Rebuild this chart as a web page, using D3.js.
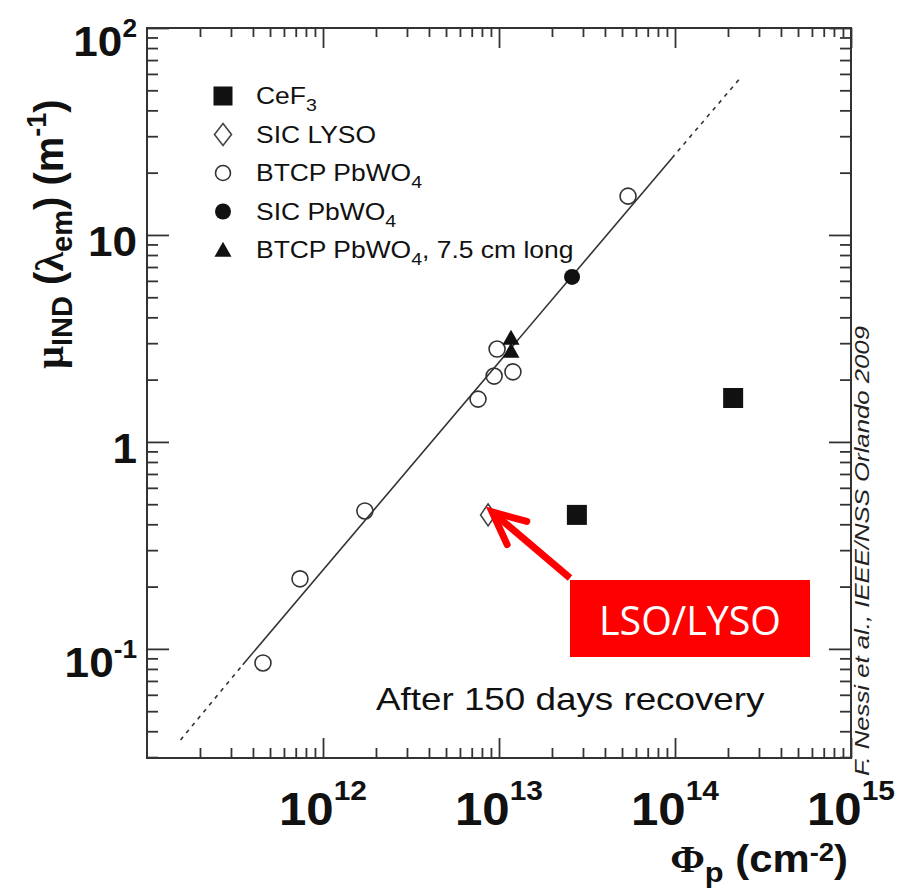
<!DOCTYPE html>
<html>
<head>
<meta charset="utf-8">
<script src="https://cdn.jsdelivr.net/npm/d3@7"></script>
<style>
  body { margin: 0; background: #fff; }
  svg { display: block; }
  text { white-space: pre; }
</style>
</head>
<body>
<svg id="chart" width="898" height="891"></svg>
<script>
// Radiation-induced absorption coefficient vs. proton fluence

// CeF3
const cef3Phi = [2.77e13, 2.14e14];
const cef3Mu = [0.444, 1.63];
// SIC LYSO
const sicLysoPhi = [8.67e12];
const sicLysoMu = [0.444];
// BTCP PbWO4
const btcpPhi = [4.56e11, 7.40e11, 1.73e12, 7.60e12, 9.38e12, 9.75e12, 1.20e13, 5.41e13];
const btcpMu = [0.0855, 0.218, 0.464, 1.61, 2.08, 2.81, 2.18, 15.4];
// SIC PbWO4
const sicPbwoPhi = [2.60e13];
const sicPbwoMu = [6.27];
// BTCP PbWO4, 7.5 cm long
const btcpLongPhi = [1.17e13, 1.17e13];
const btcpLongMu = [3.18, 2.75];
// Linear fit: dashed extrapolation, solid fitted range, dashed extrapolation
const fitPhi = [1.55e11, 3.5e11, 9.6e13, 2.35e14];
const fitMu = [0.0363, 0.0838, 23.5, 57.3];

// Axis tick labels
const xTickExps = ["12", "13", "14", "15"];
const yTickValues = [100, 10, 1, 0.1];
const yTickBase = ["10", "10", "1", "10"];
const yTickSup = ["2", "", "", "-1"];

// Legend entries ("_x" marks a subscript character)
const legendLabels = ["CeF_3", "SIC LYSO", "BTCP PbWO_4", "SIC PbWO_4", "BTCP PbWO_4, 7.5 cm long"];
const legendShapes = ["square", "diamond", "circle", "dot", "triangle"];

const noteText = "After 150 days recovery";
const creditText = "F. Nessi et al., IEEE/NSS Orlando 2009";
const calloutText = "LSO/LYSO";

// ---------------------------------------------------------------
const svg = d3.select("#chart");
const SANS = "'Liberation Sans', Arial, Helvetica, sans-serif";
const SERIF = "'Liberation Serif', 'DejaVu Serif', serif";
const INK = "#111";
const AXIS = "#333";

const plot = { left: 147, right: 851, top: 28, bottom: 758 };
const x = d3.scaleLog().domain([1e11, 1e15]).range([plot.left, plot.right]);
const y = d3.scaleLog().domain([0.0297, 100]).range([plot.bottom, plot.top]);

// --- ticks on all four sides, pointing inward
const xMajor = xTickExps.map(e => Math.pow(10, +e));
const xMinor = d3.range(11, 15).flatMap(e => d3.range(2, 10).map(m => m * Math.pow(10, e)));
const yMajor = yTickValues;
const yMinor = d3.range(-2, 2).flatMap(e => d3.range(2, 10).map(m => m * Math.pow(10, e)))
  .filter(v => v > y.domain()[0] && v < y.domain()[1]);

function tickGroup(axis, tx, ty) {
  svg.append("g")
    .attr("transform", `translate(${tx},${ty})`)
    .attr("color", AXIS)
    .call(axis.tickFormat("").tickSizeOuter(0))
    .call(g => g.select(".domain").remove())
    .selectAll("line").attr("stroke-width", 1.8);
}
tickGroup(d3.axisBottom(x).tickValues(xMajor).tickSize(-20), 0, plot.bottom);
tickGroup(d3.axisBottom(x).tickValues(xMinor).tickSize(-10), 0, plot.bottom);
tickGroup(d3.axisTop(x).tickValues(xMajor).tickSize(-20), 0, plot.top);
tickGroup(d3.axisTop(x).tickValues(xMinor).tickSize(-9), 0, plot.top);
tickGroup(d3.axisLeft(y).tickValues(yMajor).tickSize(-22), plot.left, 0);
tickGroup(d3.axisLeft(y).tickValues(yMinor).tickSize(-11), plot.left, 0);
tickGroup(d3.axisRight(y).tickValues(yMajor).tickSize(-22), plot.right, 0);
tickGroup(d3.axisRight(y).tickValues(yMinor).tickSize(-11), plot.right, 0);

svg.append("rect")
  .attr("x", plot.left).attr("y", plot.top)
  .attr("width", plot.right - plot.left).attr("height", plot.bottom - plot.top)
  .attr("fill", "none").attr("stroke", AXIS).attr("stroke-width", 2);

// --- text helper: parts with optional baseline offset / size / family
function richText(parent, parts, opts) {
  const t = parent.append("text")
    .attr("transform", opts.transform)
    .attr("text-anchor", opts.anchor || "start")
    .attr("font-family", SANS)
    .attr("font-size", opts.size)
    .attr("font-weight", opts.weight || "normal")
    .attr("font-style", opts.style || "normal")
    .attr("fill", opts.fill || INK);
  let cur = 0;
  parts.forEach(p => {
    const off = p.off || 0;
    const ts = t.append("tspan").attr("dy", off - cur).text(p.t);
    if (p.size) ts.attr("font-size", p.size);
    if (p.family) ts.attr("font-family", p.family);
    cur = off;
  });
  return t;
}

// --- x tick labels: 10^n
xTickExps.forEach((e, i) => {
  richText(svg, [{ t: "10" }, { t: e, size: 28, off: -25 }], {
    transform: `translate(${x(xMajor[i])},825) scale(1.07,1)`,
    anchor: "middle", size: 46, weight: "bold"
  });
});

// --- y tick labels
yTickValues.forEach((v, i) => {
  const sup = yTickSup[i];
  const parts = [{ t: yTickBase[i] }];
  if (sup) parts.push({ t: sup, size: 25, off: -19 });
  richText(svg, parts, {
    transform: `translate(137,${y(v) + (sup ? 28 : 21)}) scale(1.05,1)`,
    anchor: "end", size: 42, weight: "bold"
  });
});

// --- axis titles
richText(svg, [
  { t: "μ", family: SERIF },
  { t: "IND", size: 29, off: 9 },
  { t: " (" },
  { t: "λ", family: SERIF },
  { t: "em", size: 29, off: 9 },
  { t: ") (m" },
  { t: "-1", size: 27, off: -17 },
  { t: ")" }
], { transform: "translate(63,234) rotate(-90)", anchor: "middle", size: 40, weight: "bold" });

richText(svg, [
  { t: "Φ", family: SERIF },
  { t: "p", size: 28, off: 10 },
  { t: " (cm" },
  { t: "-2", size: 25, off: -11 },
  { t: ")" }
], { transform: "translate(848,872) scale(1.1,1)", anchor: "end", size: 38, weight: "bold" });

// --- fit line
const fitPts = fitPhi.map((p, i) => [x(p), y(fitMu[i])]);
const lineGen = d3.line();
[[0, 1, true], [1, 2, false], [2, 3, true]].forEach(([a, b, dashed]) => {
  svg.append("path")
    .attr("d", lineGen([fitPts[a], fitPts[b]]))
    .attr("fill", "none").attr("stroke", "#333").attr("stroke-width", 1.6)
    .attr("stroke-dasharray", dashed ? "4,5" : null);
});

// --- marker drawing
function drawMarker(g, shape, cx, cy, legend) {
  if (shape === "square") {
    const s = legend ? 19 : 20;
    g.append("rect").attr("x", cx - s / 2).attr("y", cy - s / 2).attr("width", s).attr("height", s).attr("fill", INK);
  } else if (shape === "diamond") {
    const w = legend ? 8.5 : 7.5, h = 11;
    g.append("path").attr("d", `M${cx},${cy - h}L${cx + w},${cy}L${cx},${cy + h}L${cx - w},${cy}Z`)
      .attr("fill", "#fff").attr("stroke", "#444").attr("stroke-width", 1.6);
  } else if (shape === "circle") {
    g.append("circle").attr("cx", cx).attr("cy", cy).attr("r", legend ? 7.5 : 8)
      .attr("fill", "none").attr("stroke", "#333").attr("stroke-width", 1.6);
  } else if (shape === "dot") {
    g.append("circle").attr("cx", cx).attr("cy", cy).attr("r", 8).attr("fill", INK);
  } else if (shape === "triangle") {
    const w = 8.5, h = 15;
    g.append("path").attr("d", `M${cx},${cy - h * 0.55}L${cx + w},${cy + h * 0.45}L${cx - w},${cy + h * 0.45}Z`).attr("fill", INK);
  }
}

const series = [
  { shape: "square", phi: cef3Phi, mu: cef3Mu },
  { shape: "diamond", phi: sicLysoPhi, mu: sicLysoMu },
  { shape: "circle", phi: btcpPhi, mu: btcpMu },
  { shape: "dot", phi: sicPbwoPhi, mu: sicPbwoMu },
  { shape: "triangle", phi: btcpLongPhi, mu: btcpLongMu }
];
const pts = svg.append("g");
series.forEach(s => s.phi.forEach((p, i) => drawMarker(pts, s.shape, x(p), y(s.mu[i]), false)));

// --- legend
const leg = svg.append("g");
legendLabels.forEach((lab, i) => {
  const cy = 96 + i * 38.5;
  drawMarker(leg, legendShapes[i], 223, cy, true);
  const parts = lab.split(/_(\w)/).map((t, k) => k % 2 ? { t, size: 17, off: 7 } : { t });
  richText(leg, parts.filter(p => p.t.length), {
    transform: `translate(256,${cy + 8}) scale(1.15,1)`, size: 23
  });
});

// --- annotations
richText(svg, [{ t: noteText }], { transform: "translate(376,710) scale(1.15,1)", size: 32 });

svg.append("text")
  .attr("transform", "translate(869,776) rotate(-90)")
  .attr("font-family", SANS).attr("font-style", "italic").attr("font-size", 20)
  .attr("fill", "#222")
  .attr("textLength", 450).attr("lengthAdjust", "spacingAndGlyphs")
  .text(creditText);

// --- callout box and arrow pointing at the LYSO point
const box = { x: 570, y: 580, w: 240, h: 77 };
svg.append("rect").attr("x", box.x).attr("y", box.y).attr("width", box.w).attr("height", box.h).attr("fill", "#ff0000");
svg.append("text")
  .attr("x", box.x + box.w / 2).attr("y", box.y + 55)
  .attr("text-anchor", "middle")
  .attr("font-family", "'Open Sans', Lato, sans-serif").attr("font-size", 40)
  .attr("fill", "#fff")
  .attr("textLength", 182).attr("lengthAdjust", "spacingAndGlyphs")
  .text(calloutText);

const tip = [x(sicLysoPhi[0]) + 4, y(sicLysoMu[0]) - 3];
const tail = [box.x, box.y - 2];
const ang = Math.atan2(tail[1] - tip[1], tail[0] - tip[0]);
const headLen = 36, spread = 25 * Math.PI / 180;
const barb = a => [tip[0] + headLen * Math.cos(a), tip[1] + headLen * Math.sin(a)];
svg.append("path")
  .attr("d", lineGen([tail, [tip[0] + 3 * Math.cos(ang), tip[1] + 3 * Math.sin(ang)]]))
  .attr("stroke", "#ff0000").attr("stroke-width", 7).attr("fill", "none");
svg.append("path")
  .attr("d", lineGen([barb(ang - spread), tip, barb(ang + spread)]))
  .attr("stroke", "#ff0000").attr("stroke-width", 7).attr("fill", "none")
  .attr("stroke-linejoin", "miter").attr("stroke-linecap", "round");
</script>
</body>
</html>
